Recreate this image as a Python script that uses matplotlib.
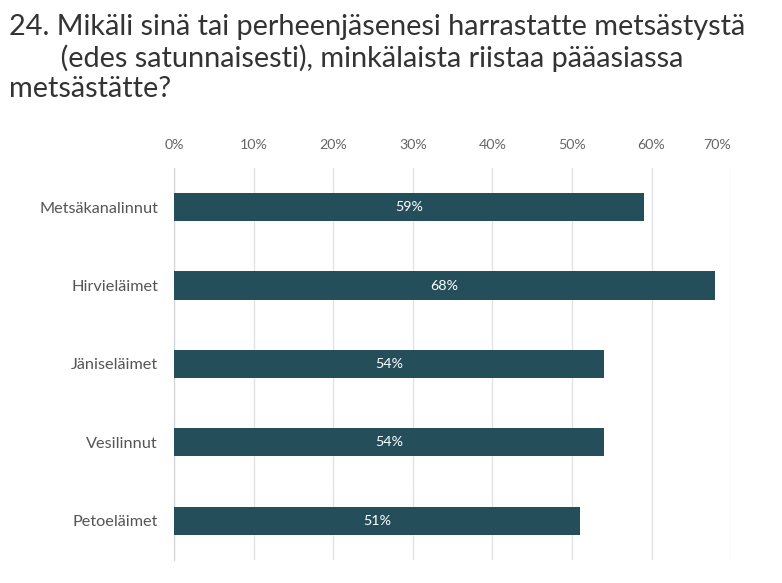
import matplotlib.pyplot as plt

categories = ["Metsäkanalinnut", "Hirvieläimet", "Jäniseläimet", "Vesilinnut", "Petoeläimet"]
values = [59, 68, 54, 54, 51]
ticks = [0, 10, 20, 30, 40, 50, 60, 70]
tick_labels = [f"{t}%" for t in ticks]

plt.rcParams['font.family'] = ['Lato', 'DejaVu Sans']

fig = plt.figure(figsize=(7.82, 5.83), dpi=100)
ax = fig.add_axes([0.2225, 0.0395, 0.7125, 0.6725])

y = range(len(categories))
ax.barh(y, values, height=0.36, color='#254e5b', zorder=3)
for i, v in enumerate(values):
    ax.text(v / 2, i, f"{v}%", ha='center', va='center', color='white', fontsize=10.3, zorder=4)

ax.set_xlim(0, 70)
ax.set_ylim(len(categories) - 0.5, -0.5)
ax.set_yticks(list(y))
ax.set_yticklabels(categories, fontsize=11.7, color='#555555')
ax.set_xticks(ticks)
ax.set_xticklabels(tick_labels, fontsize=10.3, color='#666666')
ax.xaxis.tick_top()
ax.tick_params(axis='x', length=0, pad=12)
ax.tick_params(axis='y', length=0, pad=11.5)
ax.get_xticklabels()[-1].set_horizontalalignment('right')

ax.grid(axis='x', color='#e3e3e3', linewidth=1, zorder=0)
for s in ['top', 'right', 'bottom']:
    ax.spines[s].set_visible(False)
ax.spines['left'].set_color('#cfd3d6')

fig.text(0.012, 0.976, "24. Mikäli sinä tai perheenjäsenesi harrastatte metsästystä\n"
         "       (edes satunnaisesti), minkälaista riistaa pääasiassa\n"
         "metsästätte?", ha='left', va='top', fontsize=20.8, color='#333333',
         linespacing=1.2)

fig.savefig('out.png', dpi=100)
